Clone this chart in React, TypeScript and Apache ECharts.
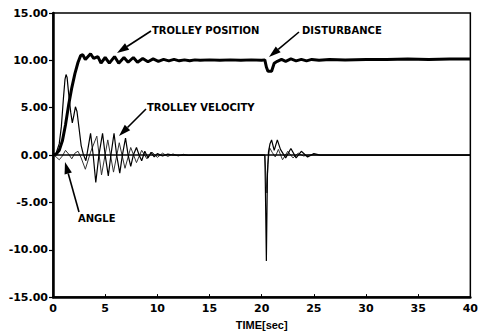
import React, { useEffect, useRef } from "react";
import * as echarts from "echarts";

// [time (s), value]
const trolleyPosition: [number, number][] = [
  [0, 0], [0.3, 0.1], [0.6, 0.5], [0.9, 1.5], [1.2, 3.2], [1.5, 5.3], [1.8, 7.1], [2.1, 8.6], [2.4, 9.8], [2.65, 10.5],
  [2.85, 10.6], [3.1, 10.1], [3.6, 10.7], [3.9, 10.2], [4.3, 10.4], [4.6, 9.7], [5.0, 10.3], [5.4, 9.7], [5.9, 10.4], [6.3, 9.7],
  [6.8, 10.3], [7.2, 9.8], [7.7, 10.3], [8.1, 9.8], [8.6, 10.2], [9.1, 9.85], [9.6, 10.15], [10.1, 9.9], [10.6, 10.1], [11.1, 9.95],
  [11.6, 10.1], [12.1, 9.95], [12.6, 10.05], [13.1, 9.95], [13.6, 10.05], [14.1, 10.0], [15, 10.05], [16, 10.0], [17, 10.05], [18, 10.0],
  [19, 10.05], [20, 10.0], [20.3, 10.05], [20.45, 9.3], [20.6, 8.85], [20.95, 8.85], [21.2, 9.7], [21.5, 9.9], [21.9, 10.1], [22.3, 9.9],
  [22.8, 10.15], [23.3, 9.95], [23.8, 10.1], [24.3, 9.95], [24.8, 10.1], [25.5, 10.0], [26.5, 10.1], [28, 10.05], [30, 10.1], [32, 10.1],
  [34, 10.15], [36, 10.1], [38, 10.15], [40, 10.15],
];

const trolleyVelocity: [number, number][] = [
  [0, 0], [0.3, 0.2], [0.6, 1.2], [0.8, 3.0], [1.0, 6.0], [1.15, 8.0], [1.25, 8.5], [1.35, 8.2], [1.5, 6.5], [1.7, 4.5],
  [1.85, 3.4], [2.0, 4.2], [2.15, 5.1], [2.3, 4.6], [2.5, 2.8], [2.7, 1.0], [2.9, 0.1], [3.15, -0.6], [3.4, 1.0], [3.6, 2.3],
  [3.85, 0], [4.1, -2.9], [4.4, 0], [4.75, 2.3], [5.0, 0], [5.3, -2.2], [5.55, 0], [5.85, 2.3], [6.1, 0], [6.4, -1.9],
  [6.65, 0], [6.95, 1.8], [7.2, 0], [7.45, -1.2], [7.7, 0], [8.0, 0.8], [8.25, 0], [8.5, -0.6], [8.8, 0.4], [9.1, -0.3],
  [9.4, 0.3], [9.7, -0.2], [10.0, 0.15], [10.5, -0.1], [11.0, 0.1], [11.5, 0], [20.3, 0], [20.35, -3], [20.45, -11.2], [20.55, -2],
  [20.65, 0.3], [20.8, 1.2], [20.95, 1.6], [21.2, 0.5], [21.5, 1.6], [21.8, 0.6], [22.3, -0.3], [22.8, 0.7], [23.3, -0.3], [23.8, 0.4],
  [24.4, -0.2], [25.0, 0.15], [25.6, 0], [40, 0],
];

const angle: [number, number][] = [
  [0, 0], [0.3, -0.2], [0.6, -0.5], [0.9, -0.1], [1.2, 0.5], [1.5, 0.1], [1.8, -0.4], [2.1, 0.2], [2.4, 0.4], [2.7, -0.3],
  [3.1, -1.5], [3.6, 0.3], [4.2, 2.0], [4.65, -2.1], [5.25, 1.6], [5.8, -1.8], [6.35, 1.3], [6.9, -1.4], [7.45, 0.8], [8.0, -0.8],
  [8.5, 0.5], [9.0, -0.4], [9.5, 0.3], [10.0, -0.25], [10.5, 0.2], [11.0, -0.15], [11.5, 0.12], [12.0, -0.1], [12.5, 0.08], [13.0, -0.05],
  [13.5, 0], [20.3, 0], [20.4, -2], [20.5, -4], [20.6, -1], [20.75, 0.8], [21.0, 0.3], [21.3, -0.2], [21.6, 0.6], [22.0, -0.5],
  [22.5, 0.4], [23.0, -0.3], [23.5, 0.2], [24.0, -0.1], [24.5, 0], [40, 0],
];

const xMin = 0;
const xMax = 40;
const xStep = 5;
const yMin = -15;
const yMax = 15;
const yStep = 5;
const xName = "TIME[sec]";

const labels = [
  { text: "TROLLEY POSITION", x: 152, y: 30, tail: [151, 31], head: [117, 53] },
  { text: "DISTURBANCE", x: 302, y: 30, tail: [299, 32], head: [269, 57] },
  { text: "TROLLEY VELOCITY", x: 147, y: 107, tail: [146, 109], head: [119, 136] },
  { text: "ANGLE", x: 78, y: 218, tail: [79, 212], head: [65, 162] },
];

function arrow(tail: number[], head: number[]) {
  const [tx, ty] = tail;
  const [hx, hy] = head;
  const dx = hx - tx;
  const dy = hy - ty;
  const L = Math.hypot(dx, dy);
  const ux = dx / L;
  const uy = dy / L;
  const len = 12;
  const w = 3.8;
  const bx = hx - ux * len;
  const by = hy - uy * len;
  const px = -uy;
  const py = ux;
  return [
    { type: "line", shape: { x1: tx, y1: ty, x2: bx, y2: by }, style: { stroke: "#000", lineWidth: 1.6 } },
    {
      type: "polygon",
      shape: { points: [[hx, hy], [bx + px * w, by + py * w], [bx - px * w, by - py * w]] },
      style: { fill: "#000" },
    },
  ];
}

export default function App() {
  const ref = useRef<HTMLDivElement>(null);
  useEffect(() => {
    if (!ref.current) return;
    const chart = echarts.init(ref.current, undefined, { renderer: "svg" });
    const graphics: any[] = [];
    labels.forEach((l) => {
      graphics.push({
        type: "text",
        x: l.x,
        y: l.y,
        style: {
          text: l.text,
          fill: "#000",
          font: "bold 10px 'DejaVu Sans'",
          textVerticalAlign: "middle",
          verticalAlign: "middle",
        },
      });
      graphics.push(...arrow(l.tail, l.head));
    });
    chart.setOption({
      animation: false,
      backgroundColor: "#fff",
      grid: {
        left: 53,
        right: 8,
        top: 13,
        bottom: 33,
        show: true,
        borderColor: "#000",
        borderWidth: 1.5,
        backgroundColor: "transparent",
      },
      xAxis: {
        type: "value",
        min: xMin,
        max: xMax,
        interval: xStep,
        name: xName,
        nameLocation: "middle",
        nameGap: 20,
        nameTextStyle: { color: "#000", fontFamily: "Liberation Sans", fontWeight: "bold", fontSize: 11 },
        axisLine: { show: true, onZero: false, lineStyle: { color: "#000", width: 2.5 } },
        axisTick: { show: true, inside: true, length: 3, lineStyle: { color: "#000", width: 1 } },
        axisLabel: { color: "#000", fontFamily: "DejaVu Sans", fontWeight: "bold", fontSize: 11, margin: 6 },
        splitLine: { show: false },
      },
      yAxis: {
        type: "value",
        min: yMin,
        max: yMax,
        interval: yStep,
        axisLine: { show: true, lineStyle: { color: "#000", width: 2.5 } },
        axisTick: { show: true, inside: false, length: 4, lineStyle: { color: "#000", width: 1.2 } },
        axisLabel: {
          color: "#000",
          fontFamily: "DejaVu Sans",
          fontWeight: "bold",
          fontSize: 11,
          margin: 5,
          formatter: (v: number) => v.toFixed(2),
        },
        splitLine: { show: false },
      },
      series: [
        {
          name: "ANGLE",
          type: "line",
          data: angle,
          showSymbol: false,
          lineStyle: { color: "#333", width: 1 },
          z: 2,
          markLine: {
            silent: true,
            symbol: ["none", "none"],
            label: { show: false },
            lineStyle: { color: "#000", width: 1.5, type: "solid" },
            data: [{ yAxis: 0 }],
          },
        },
        {
          name: "TROLLEY VELOCITY",
          type: "line",
          data: trolleyVelocity,
          showSymbol: false,
          lineStyle: { color: "#000", width: 1.2 },
          z: 3,
        },
        {
          name: "TROLLEY POSITION",
          type: "line",
          data: trolleyPosition,
          showSymbol: false,
          lineStyle: { color: "#000", width: 3 },
          z: 4,
        },
      ],
      graphic: graphics,
    });
    return () => chart.dispose();
  }, []);
  return <div ref={ref} style={{ position: "fixed", left: 0, top: 0, width: 481, height: 335, background: "#fff" }} />;
}
